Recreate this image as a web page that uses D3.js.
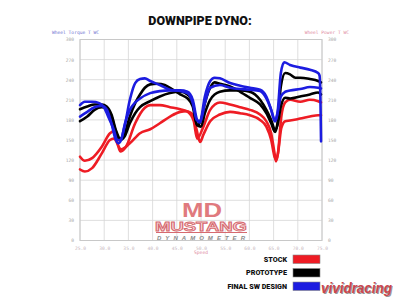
<!DOCTYPE html>
<html><head><meta charset="utf-8">
<script src="https://cdn.jsdelivr.net/npm/d3@7"></script>
<style>
html,body{margin:0;padding:0;background:#fff;}
svg{display:block;}
</style></head>
<body>
<svg id="c" width="400" height="300"></svg>
<script>
// ---- data ----
const title = "DOWNPIPE DYNO:";
const leftAxisTitle = "Wheel Torque T WC";
const rightAxisTitle = "Wheel Power T WC";
const xAxisTitle = "Speed";
const yTicks = [0,30,60,90,120,150,180,210,240,270,300];
const xTicks = [25,30,35,40,45,50,55,60,65,70,75];
const xTickLabels = ["25.0","30.0","35.0","40.0","45.0","50.0","55.0","60.0","65.0","70.0","75.0"];
const legendNames = ["STOCK","PROTOTYPE","FINAL SW DESIGN"];
const seriesColors = ["#ee1c24","#000000","#1c1ce0"];

const stockA = [[25,125],[26,119],[27.5,123],[29.5,140],[31.2,160],[32,163],[33.3,133],[34.5,140],[36.4,175],[38.4,198],[39.5,202],[41.5,202],[43.6,199],[45.7,196],[47.3,192],[48.5,178],[49.2,152],[50.5,170],[51.9,195],[53.9,206],[56,203],[58.1,199],[60.1,195],[62.2,188],[63.5,178],[64.5,160],[65.2,130],[65.5,118],[65.9,130],[66.6,185],[67.4,206],[68.4,210],[70.5,207],[72.5,210],[74.2,208],[74.8,206]];
const stockB = [[25,106],[26,103],[27.5,108],[29.5,130],[31.2,150],[32,152],[33.5,136],[35.3,145],[37.4,160],[39.5,166],[41.5,175],[43.6,185],[45.7,192],[47,193],[48.3,188],[49.1,165],[49.8,147],[50.5,158],[51.9,178],[53.9,188],[56,192],[58.1,190],[60.1,187],[62.2,180],[63.5,170],[64.5,150],[65.2,125],[65.5,120],[65.9,130],[66.6,168],[67.4,178],[68.4,179],[70.5,182],[72.5,185],[74.2,187],[74.8,187]];
const protoA = [[25,196],[26.5,200],[28,203],[29.5,203],[30.5,200],[31.5,188],[32.5,163],[33.3,152],[34.2,160],[35.3,185],[36.4,205],[37.4,218],[38.4,228],[39.5,233],[41,234],[42.5,232],[44,226],[45.7,218],[47.2,212],[48.3,200],[49.2,172],[50,180],[50.8,205],[51.9,228],[52.8,236],[53.9,234],[56,230],[58.1,222],[60.1,213],[62.2,203],[63.5,190],[64.5,175],[65.3,162],[65.8,175],[66.5,230],[67.4,250],[68.4,248],[69.5,243],[70.5,243],[72.5,241],[74.2,238],[74.8,236]];
const protoB = [[25,178],[26.5,185],[28,195],[29.5,199],[30.5,197],[31.5,185],[32.5,160],[33.3,150],[34.2,155],[35.3,175],[36.4,190],[37.4,199],[39.5,208],[41.5,215],[43.6,220],[45.7,222],[47.2,218],[48.3,205],[49.2,172],[50,170],[50.8,190],[51.9,210],[53.9,222],[56,224],[58.1,224],[60.1,222],[62.2,210],[63.5,195],[64.5,180],[65.3,165],[65.8,172],[66.5,200],[67.4,213],[68.4,212],[70.5,215],[72.5,218],[74.2,221],[74.8,218]];
const finalA = [[25,202],[26,207],[27.5,207],[29,205],[30,198],[31,182],[32,165],[32.7,150],[33.3,150],[34.2,170],[35.3,210],[36.4,235],[37.4,241],[38.4,242],[39.5,238],[41.5,232],[43.6,225],[45.7,223],[47.2,220],[48.3,205],[49.1,180],[49.8,178],[50.8,215],[51.9,238],[52.8,243],[53.9,242],[56,235],[58.1,231],[60.1,228],[62.2,225],[63.5,215],[64.5,195],[65.3,178],[65.8,190],[66.5,250],[67.2,266],[68.4,262],[70.5,258],[72.5,255],[74.2,250],[74.5,246],[74.7,200],[74.8,148]];
const finalB = [[25,185],[26.5,192],[28,199],[29.5,201],[30.5,196],[31.5,175],[32.3,152],[32.9,145],[33.5,150],[34.3,175],[35.3,195],[36.4,206],[37.4,212],[39.5,220],[41.5,223],[43.6,224],[45.7,224],[47.2,222],[48.3,210],[49.2,180],[49.8,176],[50.8,205],[51.9,228],[53.9,232],[56,228],[58.1,226],[60.1,225],[62.2,223],[63.5,212],[64.5,195],[65.3,178],[65.8,190],[66.5,215],[67.4,222],[68.4,224],[70.5,226],[72.5,229],[74.2,228],[74.8,227]];

const seriesList = [
  {data: stockB, c:0},{data: stockA, c:0},
  {data: protoB, c:1},{data: protoA, c:1},
  {data: finalB, c:2},{data: finalA, c:2}
];

// ---- drawing ----
const svg = d3.select("#c");
const L=80,R=322,T=39.5,B=240.5;
const x = d3.scaleLinear().domain([25,75]).range([L,R]);
const y = d3.scaleLinear().domain([0,300]).range([B,T]);

svg.append("text").attr("x",200).attr("y",25).attr("text-anchor","middle")
  .attr("font-family","Roboto, 'Liberation Sans', sans-serif").attr("font-weight","900")
  .attr("font-size",12.5).attr("fill","#111").text(title);

// grid
const g = svg.append("g");
g.selectAll(".hg").data(yTicks).join("line")
  .attr("x1",L).attr("x2",R).attr("y1",d=>y(d)).attr("y2",d=>y(d))
  .attr("stroke","#d6d6d6").attr("stroke-width",0.8);
g.selectAll(".vg").data(xTicks).join("line")
  .attr("x1",d=>x(d)).attr("x2",d=>x(d)).attr("y1",T).attr("y2",B)
  .attr("stroke","#d6d6d6").attr("stroke-width",0.8);
g.append("rect").attr("x",L).attr("y",T).attr("width",R-L).attr("height",B-T)
  .attr("fill","none").attr("stroke","#c8c8c8").attr("stroke-width",1);

// axes
const mono = "'DejaVu Sans Mono', monospace";
const la = svg.append("g").attr("transform",`translate(${L-3},0)`)
  .call(d3.axisLeft(y).tickValues(yTicks).tickSize(0).tickFormat(d3.format("d")));
la.select(".domain").remove();
la.selectAll("text").attr("font-family",mono).attr("font-size",4.6).attr("fill","#a8a8a8");
const ra = svg.append("g").attr("transform",`translate(${R+3},0)`)
  .call(d3.axisRight(y).tickValues(yTicks).tickSize(0).tickFormat(d3.format("d")));
ra.select(".domain").remove();
ra.selectAll("text").attr("font-family",mono).attr("font-size",4.6).attr("fill","#a8a8a8");
const ba = svg.append("g").attr("transform",`translate(0,${B+3})`)
  .call(d3.axisBottom(x).tickValues(xTicks).tickSize(0).tickFormat((d,i)=>xTickLabels[i]));
ba.select(".domain").remove();
ba.selectAll("text").attr("font-family",mono).attr("font-size",4.6).attr("fill","#c8b8c0");

svg.append("text").attr("x",52).attr("y",34).attr("font-family",mono).attr("font-size",4.6)
  .attr("fill","#7070d0").text(leftAxisTitle);
svg.append("text").attr("x",349).attr("y",34).attr("text-anchor","end").attr("font-family",mono).attr("font-size",4.6)
  .attr("fill","#e08aa0").text(rightAxisTitle);
svg.append("text").attr("x",x(50)).attr("y",254).attr("text-anchor","middle").attr("font-family",mono).attr("font-size",4.6)
  .attr("fill","#e08aa0").text(xAxisTitle);

// logo
svg.append("text").attr("x",202).attr("y",216.5).attr("text-anchor","middle")
  .attr("font-family","'Liberation Sans', Arial, sans-serif").attr("font-weight","bold")
  .attr("font-size",21).attr("textLength",40).attr("lengthAdjust","spacingAndGlyphs")
  .attr("fill","#e07a7e").text("MD");
svg.append("text").attr("x",201).attr("y",230.5).attr("text-anchor","middle")
  .attr("font-family","'Liberation Sans', Arial, sans-serif").attr("font-weight","bold")
  .attr("font-size",12).attr("textLength",92).attr("lengthAdjust","spacingAndGlyphs")
  .attr("fill","#f6d8da").attr("stroke","#d66a70").attr("stroke-width",0.8).text("MUSTANG");
svg.append("line").attr("x1",156).attr("x2",247).attr("y1",232.5).attr("y2",232.5)
  .attr("stroke","#d66a70").attr("stroke-width",1);
svg.append("text").attr("x",201).attr("y",239.5).attr("text-anchor","middle")
  .attr("font-family","'Liberation Sans', Arial, sans-serif").attr("font-weight","bold").attr("font-style","italic")
  .attr("font-size",6).attr("textLength",88).attr("lengthAdjust","spacing")
  .attr("fill","#8a8a8a").text("DYNAMOMETER");

// lines
const line = d3.line().x(d=>x(d[0])).y(d=>y(d[1])).curve(d3.curveMonotoneX);
svg.append("g").selectAll("path").data(seriesList).join("path")
  .attr("d",d=>line(d.data)).attr("fill","none")
  .attr("stroke",d=>seriesColors[d.c]).attr("stroke-width",2.6)
  .attr("stroke-linejoin","round").attr("stroke-linecap","round");

// legend
const lg = svg.append("g");
legendNames.forEach((n,i)=>{
  const yy = 255 + i*13.5;
  lg.append("text").attr("x",287).attr("y",yy+6.5).attr("text-anchor","end")
    .attr("font-family","Roboto, 'Liberation Sans', sans-serif").attr("font-weight","900")
    .attr("font-size",7.2).attr("fill","#111").text(n);
  lg.append("rect").attr("x",293).attr("y",yy).attr("width",27).attr("height",8.5)
    .attr("fill",seriesColors[i]).attr("stroke","#888").attr("stroke-width",0.6);
});

// watermark
svg.append("text").attr("x",322).attr("y",294.2)
  .attr("font-family","'Liberation Sans', Arial, sans-serif").attr("font-weight","bold").attr("font-style","italic")
  .attr("font-size",15).attr("textLength",71).attr("lengthAdjust","spacingAndGlyphs")
  .attr("fill","#555").attr("opacity",0.6).text("vividracing");
svg.append("text").attr("x",321).attr("y",293)
  .attr("font-family","'Liberation Sans', Arial, sans-serif").attr("font-weight","bold").attr("font-style","italic")
  .attr("font-size",15).attr("textLength",71).attr("lengthAdjust","spacingAndGlyphs")
  .attr("fill","#c9464e").text("vividracing");
</script>
</body></html>
